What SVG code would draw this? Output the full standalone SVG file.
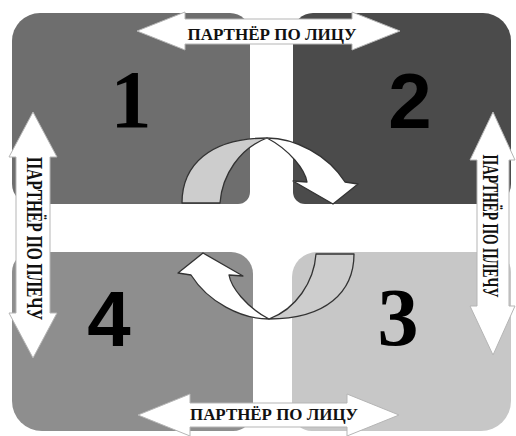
<svg xmlns="http://www.w3.org/2000/svg" width="516" height="436" viewBox="0 0 516 436">
<style>
.num-serif{font-family:"Liberation Serif","Times New Roman",serif;font-weight:bold;fill:#000;text-anchor:middle}
.num-sans{font-family:"Liberation Sans",Arial,sans-serif;font-weight:bold;fill:#000;text-anchor:middle}
.lbl{font-family:"Liberation Serif","Times New Roman",serif;font-weight:bold;fill:#111;text-anchor:middle}
.dbl{fill:#fff;stroke:#b5b5b5;stroke-width:1}
.rib-back{fill:#cdcdcd;stroke:#333;stroke-width:1.3;stroke-linejoin:round}
.rib-front{fill:#fff;stroke:#333;stroke-width:1.3;stroke-linejoin:round}
</style>
<rect width="516" height="436" fill="#fff"/>
<g id="q1">
<path d="M40,13 H230 A20,20 0 0 1 250,33 V192 A12,12 0 0 1 238,204 H32 A20,20 0 0 1 12,184 V41 A28,28 0 0 1 40,13 Z" fill="#6e6e6e"/>
<text class="num-serif" x="131" y="127" font-size="82">1</text>
</g>
<g id="q2">
<path d="M313,13 H483 A28,28 0 0 1 511,41 V184 A20,20 0 0 1 491,204 H305 A12,12 0 0 1 293,192 V33 A20,20 0 0 1 313,13 Z" fill="#4b4b4b"/>
<text class="num-sans" x="410" y="128" font-size="78">2</text>
</g>
<g id="q3">
<path d="M317,252 H491 A20,20 0 0 1 511,272 V401 A30,30 0 0 1 481,431 H312 A20,20 0 0 1 292,411 V277 A25,25 0 0 1 317,252 Z" fill="#c7c7c7"/>
<text class="num-serif" x="398" y="345" font-size="82">3</text>
</g>
<g id="q4">
<path d="M32,252 H231 A22,22 0 0 1 253,274 V411 A20,20 0 0 1 233,431 H42 A30,30 0 0 1 12,401 V272 A20,20 0 0 1 32,252 Z" fill="#8e8e8e"/>
<text class="num-sans" x="109" y="346" font-size="78">4</text>
</g>
<g id="connectors">
<g id="ribbon-top">
<path class="rib-back" d="M182,203 C182,165 210,138 267,138 C240,148 222,175 220,203 Z"/>
<path class="rib-front" d="M267,138 C295,138 328,155 345,182 L358,184 L333,204 L293,181 L307,182 C305,170 290,150 267,138 Z"/>
</g>
<g id="ribbon-bottom" transform="rotate(180,268,228.5)">
<path class="rib-back" d="M182,203 C182,165 210,138 267,138 C240,148 222,175 220,203 Z"/>
<path class="rib-front" d="M267,138 C295,138 328,155 345,182 L358,184 L333,204 L293,181 L307,182 C305,170 290,150 267,138 Z"/>
</g>
<g id="arrow-top">
<polygon class="dbl" points="137,31 185,12 185,19 352,19 352,12 400,31 352,50 352,44 185,44 185,50"/>
<text class="lbl" x="272" y="40" font-size="16" textLength="169" lengthAdjust="spacingAndGlyphs">ПАРТНЁР ПО ЛИЦУ</text>
</g>
<g id="arrow-bottom">
<polygon class="dbl" points="138,415 190,394 190,403 347,403 347,394 399,415 347,436 347,427 190,427 190,436"/>
<text class="lbl" x="274" y="420" font-size="16" textLength="168" lengthAdjust="spacingAndGlyphs">ПАРТНЁР ПО ЛИЦУ</text>
</g>
<g id="arrow-left">
<polygon class="dbl" points="33,112 57,157 50,157 50,313 57,313 33,358 9,313 16,313 16,157 9,157"/>
<text class="lbl" transform="translate(27,238.5) rotate(90)" font-size="23" textLength="163" lengthAdjust="spacingAndGlyphs">ПАРТНЁР ПО ПЛЕЧУ</text>
</g>
<g id="arrow-right">
<polygon class="dbl" points="493,112 515,160 509,160 509,306 515,306 493,355 470,306 477,306 477,160 470,160"/>
<text class="lbl" transform="translate(483,226) rotate(90)" font-size="23" textLength="143" lengthAdjust="spacingAndGlyphs">ПАРТНЁР ПО ПЛЕЧУ</text>
</g>
</g>
</svg>
